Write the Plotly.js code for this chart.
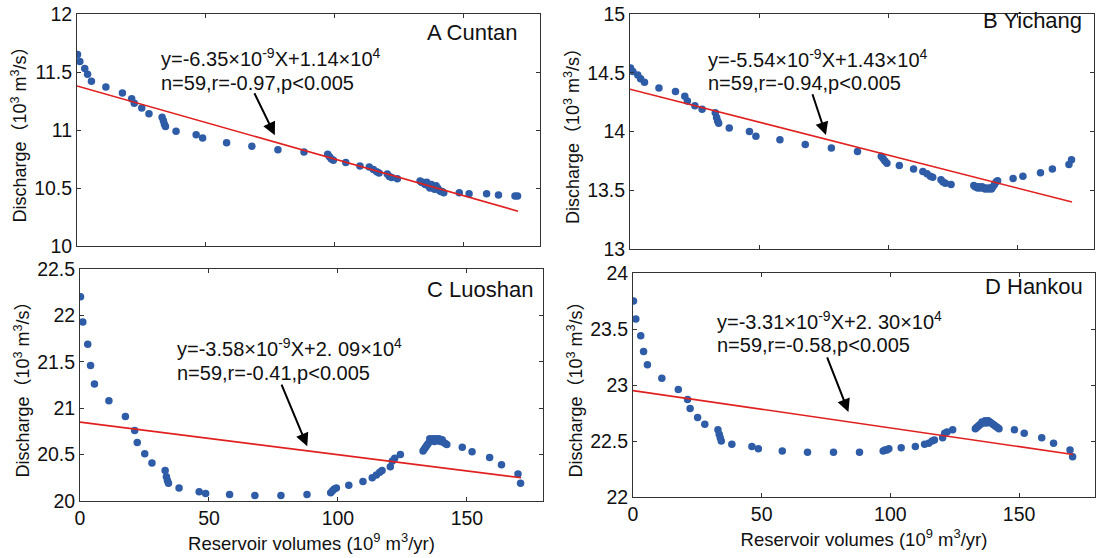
<!DOCTYPE html>
<html>
<head>
<meta charset="utf-8">
<script src="https://cdn.plot.ly/plotly-3.0.1.min.js"></script>
<style>html,body{margin:0;padding:0;background:#fff;}#chart{width:1097px;height:558px;}</style>
</head>
<body>
<div id="chart"></div>
<script>
// Reservoir volumes (10^9 m^3/yr), shared by the four stations
const reservoirVolume = [0.2, 1.1, 3.0, 4.1, 5.6, 11.2, 17.6, 21.2, 22.2, 25.1, 27.9, 33.0, 33.5, 33.9, 34.3, 38.4, 46.2, 48.7, 58.0, 67.8, 77.9, 88.0, 97.2, 97.9, 98.6, 99.4, 104.2, 109.7, 113.3, 114.9, 116.2, 117.1, 120.3, 121.1, 122.0, 124.2,
  133.0, 133.5, 134.0, 134.5, 135.0, 135.6, 136.2, 136.8, 137.4, 138.0, 138.6, 139.2, 139.8, 140.4, 141.0, 141.6, 142.2,
  148.2, 152.0, 158.8, 163.4, 169.8, 170.8];

// Discharge (10^3 m^3/s)
const cuntanDischarge = [11.65, 11.59, 11.53, 11.48, 11.42, 11.37, 11.32, 11.27, 11.23, 11.19, 11.14, 11.11, 11.08, 11.05, 11.03, 10.99, 10.96, 10.93, 10.89, 10.86, 10.83, 10.81, 10.79, 10.77, 10.75, 10.74, 10.72, 10.69, 10.68, 10.66, 10.64, 10.63, 10.62, 10.60, 10.59, 10.58,
  10.56, 10.55, 10.55, 10.54, 10.53, 10.55, 10.52, 10.50, 10.53, 10.51, 10.49, 10.52, 10.50, 10.48, 10.47, 10.47, 10.46,
  10.46, 10.45, 10.45, 10.44, 10.43, 10.43];
const yichangDischarge = [14.54, 14.51, 14.48, 14.45, 14.42, 14.37, 14.34, 14.30, 14.26, 14.22, 14.19, 14.16, 14.12, 14.09, 14.07, 14.03, 14.00, 13.96, 13.93, 13.89, 13.86, 13.83, 13.79, 13.77, 13.75, 13.73, 13.71, 13.68, 13.66, 13.64, 13.62, 13.61, 13.59, 13.57, 13.56, 13.55,
  13.54, 13.53, 13.53, 13.52, 13.53, 13.52, 13.53, 13.52, 13.51, 13.52, 13.51, 13.52, 13.51, 13.53, 13.55, 13.57, 13.58,
  13.60, 13.62, 13.65, 13.68, 13.72, 13.76];
const luoshanDischarge = [22.20, 21.93, 21.69, 21.46, 21.26, 21.08, 20.91, 20.76, 20.63, 20.51, 20.41, 20.33, 20.26, 20.22, 20.19, 20.14, 20.10, 20.08, 20.07, 20.06, 20.06, 20.07, 20.09, 20.11, 20.13, 20.14, 20.17, 20.21, 20.25, 20.28, 20.31, 20.33, 20.37, 20.43, 20.46, 20.50,
  20.54, 20.56, 20.58, 20.60, 20.62, 20.67, 20.65, 20.67, 20.64, 20.67, 20.65, 20.67, 20.64, 20.66, 20.63, 20.62, 20.61,
  20.58, 20.53, 20.47, 20.39, 20.29, 20.19];
const hankouDischarge = [23.75, 23.59, 23.44, 23.30, 23.18, 23.06, 22.96, 22.87, 22.79, 22.71, 22.65, 22.60, 22.56, 22.53, 22.50, 22.47, 22.45, 22.43, 22.41, 22.40, 22.40, 22.40, 22.41, 22.42, 22.42, 22.43, 22.44, 22.45, 22.47, 22.48, 22.50, 22.51, 22.53, 22.57, 22.58, 22.60,
  22.61, 22.62, 22.63, 22.64, 22.65, 22.67, 22.66, 22.68, 22.66, 22.68, 22.67, 22.66, 22.65, 22.64, 22.63, 22.62, 22.61,
  22.60, 22.57, 22.53, 22.48, 22.42, 22.36];

// Linear fits (end points of the red lines)
const fitX = [0, 171];
const cuntanFit = [11.38, 10.30];
const yichangFit = [14.36, 13.40];
const luoshanFit = [20.85, 20.25];
const hankouFit = [22.95, 22.38];

// Texts
const panelNames = ['A Cuntan', 'B Yichang', 'C Luoshan', 'D Hankou'];
const equations = [
  'y=-6.35×10<sup>-9</sup>X+1.14×10<sup>4</sup>',
  'y=-5.54×10<sup>-9</sup>X+1.43×10<sup>4</sup>',
  'y=-3.58×10<sup>-9</sup>X+2. 09×10<sup>4</sup>',
  'y=-3.31×10<sup>-9</sup>X+2. 30×10<sup>4</sup>'
];
const statistics = [
  'n=59,r=-0.97,p&lt;0.005',
  'n=59,r=-0.94,p&lt;0.005',
  'n=59,r=-0.41,p&lt;0.005',
  'n=59,r=-0.58,p&lt;0.005'
];
const yTitle = 'Discharge（10<sup>3</sup> m<sup>3</sup>/s）';
const xTitle = 'Reservoir volumes (10<sup>9</sup> m<sup>3</sup>/yr)';

const series = [cuntanDischarge, yichangDischarge, luoshanDischarge, hankouDischarge];
const fits = [cuntanFit, yichangFit, luoshanFit, hankouFit];

// layout helpers (positions / styles)
const W = 1097, H = 558;
const boxes = [ // [left, right, top, bottom] in px
  [77, 540, 14, 246],
  [630, 1094, 14, 249],
  [80, 543, 269, 501],
  [633, 1095, 273, 497]
];
const yRanges = [[10, 12], [13, 15], [20, 22.5], [22, 24]];
const labelPos = [ // [x right, y baseline]
  [171.7, 11.76], [175.6, 14.864], [176.5, 22.173], [175.6, 23.798]
];
const eqPos = [ // [x left, y baseline line1, y baseline line2]
  [32.4, 11.54, 11.34], [30.2, 14.54, 14.345], [37.6, 21.55, 21.295], [32.6, 23.49, 23.285]
];
const arrows = [ // [head x, head y, tail x, tail y]
  [76.7, 10.955, 68.5, 11.33], [75.8, 13.97, 70.4, 14.33], [88.1, 20.59, 77.9, 21.27], [83.7, 22.76, 75.2, 23.26]
];

const FONT = 'Liberation Sans, Arial, Helvetica, Noto Sans CJK SC, sans-serif';
const data = [];
const layout = {
  width: W, height: H,
  margin: {l: 0, r: 0, t: 0, b: 0},
  paper_bgcolor: '#fff', plot_bgcolor: '#fff',
  showlegend: false,
  font: {family: FONT, size: 19, color: '#111'},
  annotations: []
};

for (let i = 0; i < 4; i++) {
  const sfx = i === 0 ? '' : String(i + 1);
  const xa = 'x' + sfx, ya = 'y' + sfx;
  data.push({
    x: reservoirVolume, y: series[i], xaxis: xa, yaxis: ya,
    type: 'scatter', mode: 'markers',
    marker: {symbol: 'circle', size: 7.5, color: '#2f5ca6'},
    hoverinfo: 'skip'
  });
  data.push({
    x: fitX, y: fits[i], xaxis: xa, yaxis: ya,
    type: 'scatter', mode: 'lines',
    line: {color: '#e0201e', width: 1.6},
    hoverinfo: 'skip'
  });
  const b = boxes[i];
  const bottomRow = i >= 2;
  const xaxis = {
    domain: [b[0] / W, b[1] / W], anchor: ya,
    range: [0, 179.5], tickvals: [0, 50, 100, 150],
    showline: true, mirror: 'ticks', linecolor: '#333', linewidth: 1,
    ticks: 'inside', ticklen: 4, tickcolor: '#333',
    showgrid: false, zeroline: false,
    showticklabels: bottomRow,
    tickfont: {size: 19.5, family: FONT, color: '#111'}
  };
  if (bottomRow) {
    xaxis.title = {text: xTitle, font: {size: 18.5, family: FONT, color: '#111'}, standoff: 8};
  }
  layout['xaxis' + sfx] = xaxis;
  layout['yaxis' + sfx] = {
    domain: [1 - b[3] / H, 1 - b[2] / H], anchor: xa,
    range: yRanges[i], dtick: 0.5,
    showline: true, mirror: 'ticks', linecolor: '#333', linewidth: 1,
    ticks: 'inside', ticklen: 4, tickcolor: '#333',
    showgrid: false, zeroline: false,
    tickfont: {size: 19.5, family: FONT, color: '#111'},
    title: {text: yTitle, font: {size: 18, family: FONT, color: '#111'}, standoff: 2}
  };
  layout.annotations.push({
    xref: xa, yref: ya, x: labelPos[i][0], y: labelPos[i][1],
    xanchor: 'right', yanchor: 'bottom', yshift: -5,
    text: panelNames[i], showarrow: false,
    font: {size: 22, family: FONT, color: '#111'}
  });
  layout.annotations.push({
    xref: xa, yref: ya, x: eqPos[i][0], y: eqPos[i][1],
    xanchor: 'left', yanchor: 'bottom', yshift: -5, xshift: -2,
    text: equations[i], showarrow: false,
    font: {size: 20, family: FONT, color: '#111'}
  });
  layout.annotations.push({
    xref: xa, yref: ya, x: eqPos[i][0], y: eqPos[i][2],
    xanchor: 'left', yanchor: 'bottom', yshift: -5, xshift: -2,
    text: statistics[i], showarrow: false,
    font: {size: 20, family: FONT, color: '#111'}
  });
  const a = arrows[i];
  layout.annotations.push({
    xref: xa, yref: ya, axref: xa, ayref: ya,
    x: a[0], y: a[1], ax: a[2], ay: a[3],
    text: '', showarrow: true, arrowhead: 2, arrowsize: 1.3, arrowwidth: 2,
    arrowcolor: '#000', standoff: 0, startstandoff: 0
  });
}

Plotly.newPlot('chart', data, layout, {staticPlot: true, displayModeBar: false});
</script>
</body>
</html>
